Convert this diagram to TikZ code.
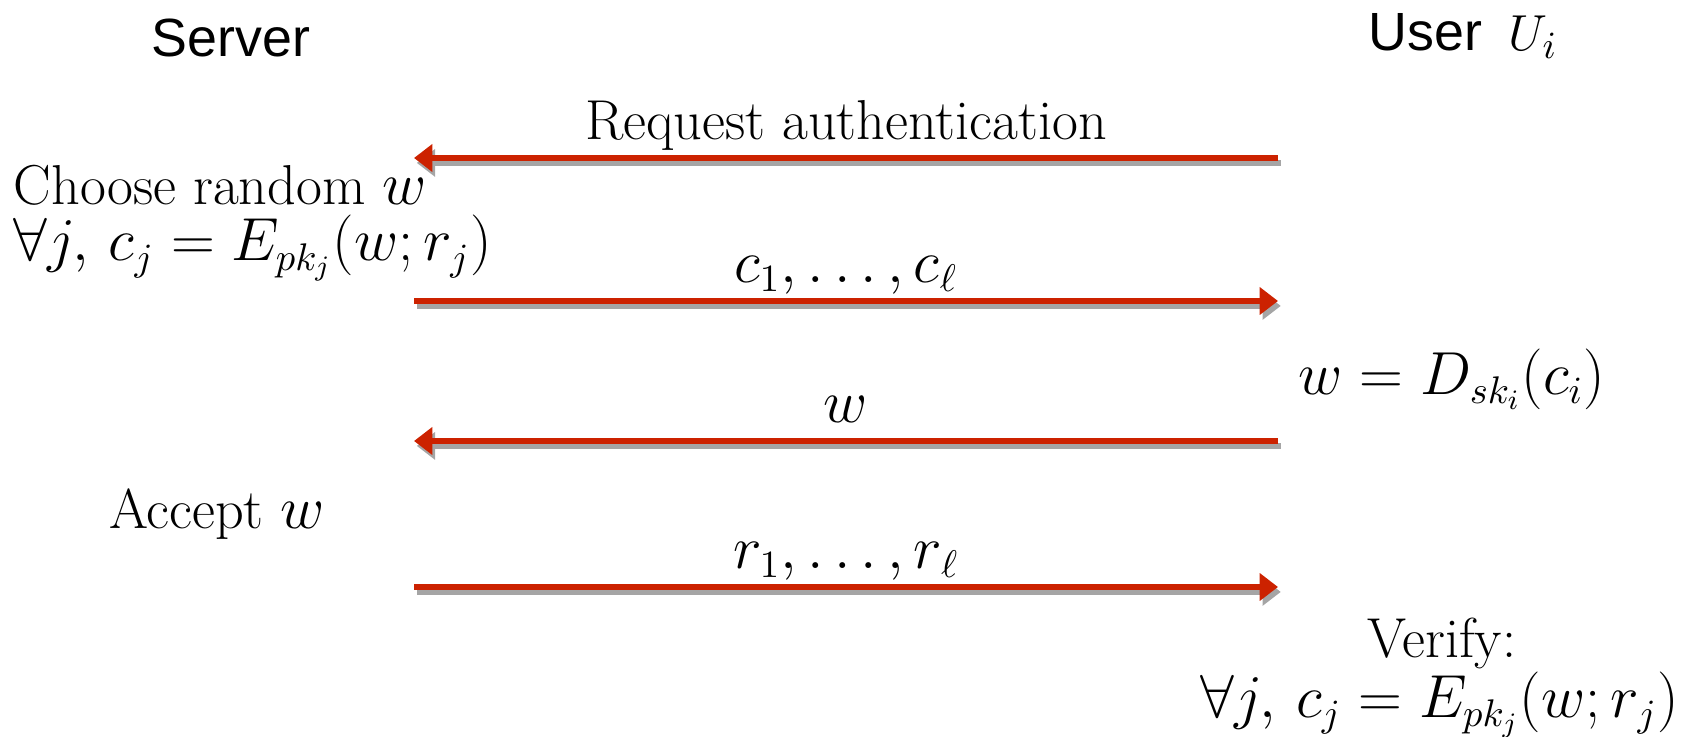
\documentclass[tikz,border=0pt]{standalone}
\usepackage{fontspec}
\newfontfamily\hvfont{Liberation Sans}
\usetikzlibrary{arrows.meta}
\definecolor{msgred}{RGB}{204,34,0}
\definecolor{msggray}{RGB}{165,165,165}
\tikzset{
  party/.style={font=\hvfont\fontsize{15.3}{18}\selectfont},
  txt/.style={font=\fontsize{16}{19}\selectfont,inner sep=0pt,text=black},
  lbl/.style={txt,midway,anchor=base,yshift=5.2pt},
  msg/.style={-{Triangle[length=5.2pt,width=7.6pt]},line width=1.7pt,msgred},
  msgshadow/.style={-{Triangle[length=5.2pt,width=7.6pt]},line width=1.7pt,msggray,
    transform canvas={xshift=0.8pt,yshift=-1.4pt}}
}
\begin{document}
\begin{tikzpicture}[x=0.01cm,y=-0.01cm]
    \useasboundingbox (0,0) rectangle (1687,737);
    % parties
    \node[party] (server) at (231,38) {Server};
    \node[party] (user) at (1463,36) {User\enspace$U_i$};

    % ends of the messages
    \coordinate (s1) at (414,158); \coordinate (u1) at (1278,158);
    \coordinate (s2) at (414,301); \coordinate (u2) at (1278,301);
    \coordinate (s3) at (414,441); \coordinate (u3) at (1278,441);
    \coordinate (s4) at (414,587); \coordinate (u4) at (1278,587);

    % server side
    \node[txt,anchor=base west] (choose) at (13,205) {Choose random $w$};
    \node[txt,anchor=base west] (enc) at (13,261) {$\forall j,\, c_j = E_{pk_j}(w;r_j)$};
    \node[txt] (accept) at (217,514) {Accept $w$};

    % user side
    \node[txt] (dec) at (1452,379) {$w = D_{sk_i}(c_i)$};
    \node[txt] (verify) at (1442,643) {Verify:};
    \node[txt] (check) at (1440,705) {$\forall j,\, c_j = E_{pk_j}(w;r_j)$};

    % messages
    \draw[msgshadow] (u1) -- (s1);
    \draw[msg] (u1) -- (s1) node[lbl] (req) {Request authentication};
    \draw[msgshadow] (s2) -- (u2);
    \draw[msg] (s2) -- (u2) node[lbl] (cs) {$c_1,\ldots,c_\ell$};
    \draw[msgshadow] (u3) -- (s3);
    \draw[msg] (u3) -- (s3) node[lbl] (wmsg) {$w$};
    \draw[msgshadow] (s4) -- (u4);
    \draw[msg] (s4) -- (u4) node[lbl] (rs) {$r_1,\ldots,r_\ell$};
\end{tikzpicture}
\end{document}
